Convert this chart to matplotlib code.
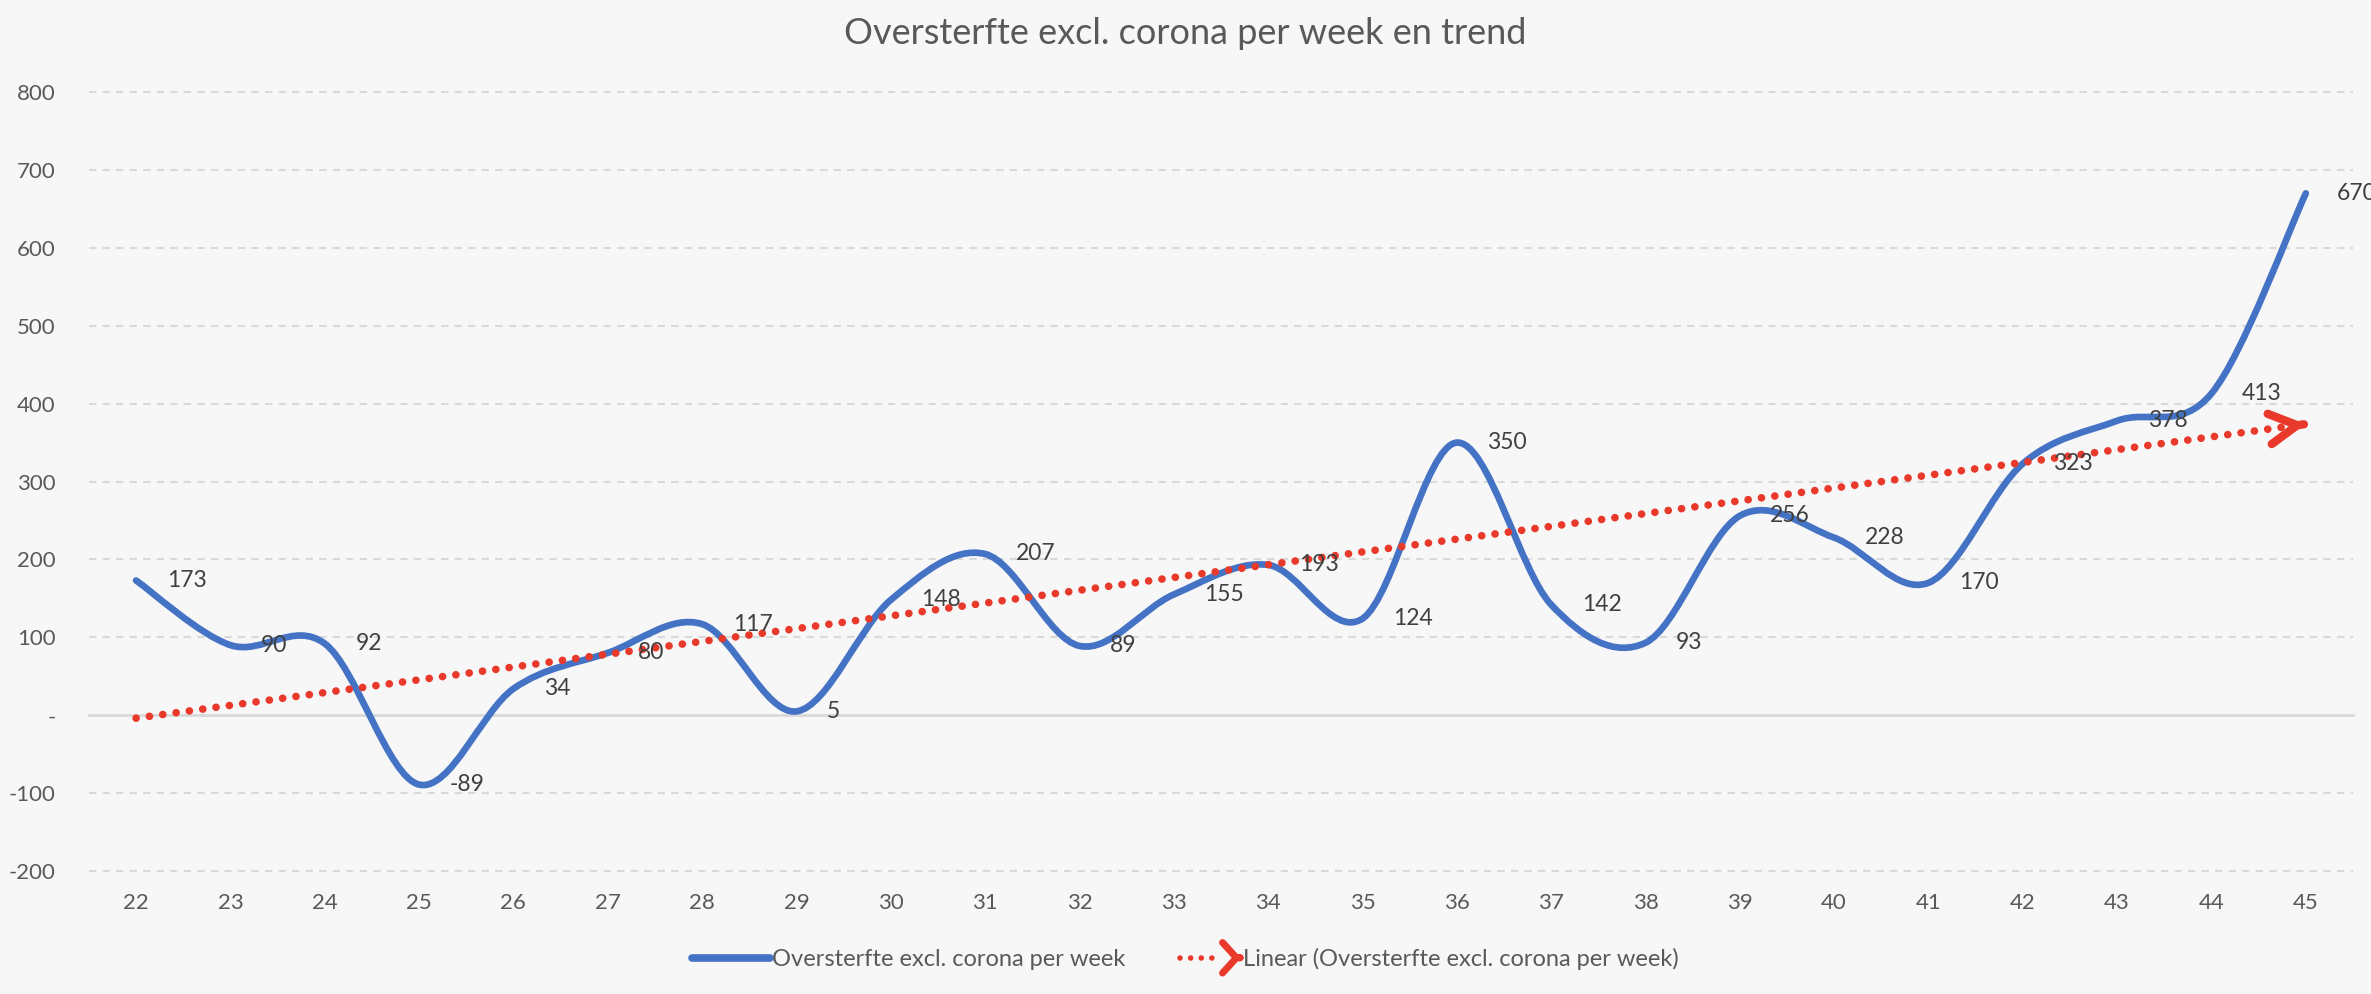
import matplotlib.pyplot as plt
import numpy as np
from matplotlib.lines import Line2D
from matplotlib.patches import FancyArrowPatch, PathPatch
from matplotlib.path import Path
from matplotlib.legend_handler import HandlerBase

# Week numbers and excess deaths (excl. corona) per week
weeks = list(range(22, 46))
excess_deaths = [173, 90, 92, -89, 34, 80, 117, 5, 148, 207, 89, 155,
                 193, 124, 350, 142, 93, 256, 228, 170, 323, 378, 413, 670]
y_ticks = [-200, -100, 0, 100, 200, 300, 400, 500, 600, 700, 800]

TITLE = "Oversterfte excl. corona per week en trend"
SERIES_LABEL = "Oversterfte excl. corona per week"
TREND_LABEL = "Linear (Oversterfte excl. corona per week)"

BG = "#F7F7F7"
BLUE = "#4472C4"
RED = "#E8392B"
GRID = "#D9D9D9"
TEXT = "#595959"
LABEL = "#404040"

ARROW = "->,head_length=20,head_width=11"

plt.rcParams["font.family"] = ["Lato", "DejaVu Sans"]


def smooth_path(x, y):
    """Bezier path through the points, like Excel's smoothed line"""
    pts = np.column_stack([x, y]).astype(float)
    n = len(pts)
    verts = [pts[0]]
    codes = [Path.MOVETO]
    for i in range(n - 1):
        prev = pts[max(i - 1, 0)]
        nxt = pts[min(i + 2, n - 1)]
        verts += [pts[i] + (pts[i + 1] - prev) / 6,
                  pts[i + 1] - (nxt - pts[i]) / 6,
                  pts[i + 1]]
        codes += [Path.CURVE4] * 3
    return Path(verts, codes)


class TrendHandler(HandlerBase):
    def create_artists(self, legend, orig_handle, xdescent, ydescent,
                       width, height, fontsize, trans):
        y = height / 2 - ydescent
        x0 = -xdescent
        x1 = width - xdescent
        dots = Line2D([x0 + 12, x1 - 14], [y, y], color=RED, lw=4,
                      linestyle=(0, (0.01, 1.9)), dash_capstyle="round",
                      transform=trans)
        head = FancyArrowPatch((x1 - 1, y), (x1, y),
                               arrowstyle="->,head_length=10,head_width=11",
                               mutation_scale=1, lw=5, color=RED,
                               shrinkA=0, shrinkB=0, transform=trans)
        return [dots, head]


fig = plt.figure(figsize=(23.71, 9.94), dpi=100, facecolor=BG)
ax = fig.add_axes([0.0375, 0.1237, 0.9549, 0.7837], facecolor=BG)
ax.set_xlim(weeks[0] - 0.5, weeks[-1] + 0.5)
ax.set_ylim(y_ticks[0], y_ticks[-1])

for v in y_ticks:
    if v == 0:
        ax.axhline(v, color=GRID, lw=2, zorder=1, clip_on=False)
    else:
        ax.axhline(v, color=GRID, lw=1.5, linestyle=(0, (3.5, 3)),
                   zorder=1, clip_on=False)

# smoothed series line
patch = PathPatch(smooth_path(weeks, excess_deaths), fill=False,
                  edgecolor=BLUE, lw=4.8, capstyle="round",
                  joinstyle="round", zorder=3)
ax.add_patch(patch)

# linear trend
slope, intercept = np.polyfit(weeks, excess_deaths, 1)
tx = np.array([weeks[0], weeks[-1] - 0.2])
ax.plot(tx, slope * tx + intercept, color=RED, lw=5.5,
        linestyle=(0, (0.01, 1.75)), dash_capstyle="round", zorder=4)
end_x = weeks[-1]
ax.annotate("", xy=(end_x, slope * end_x + intercept),
            xytext=(end_x - 0.02, slope * (end_x - 0.02) + intercept),
            arrowprops=dict(arrowstyle=ARROW, mutation_scale=1, lw=6,
                            color=RED, shrinkA=0, shrinkB=0),
            zorder=4)

# data labels to the right of each point
for w, v in zip(weeks, excess_deaths):
    ax.annotate(str(v), xy=(w, v), xytext=(22, 0),
                textcoords="offset points", ha="left", va="center",
                fontsize=16.5, color=LABEL, zorder=5, annotation_clip=False)

ax.set_xticks(weeks)
ax.set_xticklabels([str(w) for w in weeks])
ax.set_yticks(y_ticks)
ax.set_yticklabels(["-" if v == 0 else str(v) for v in y_ticks])
ax.tick_params(axis="both", length=0, labelsize=16, labelcolor=TEXT)
ax.tick_params(axis="y", pad=24)
ax.tick_params(axis="x", pad=16)
for spine in ax.spines.values():
    spine.set_visible(False)

fig.text(0.5, 1 - 33 / 994, TITLE, ha="center", va="center",
         fontsize=26, color=TEXT)

series_handle = Line2D([], [], color=BLUE, lw=5.5, solid_capstyle="round")
trend_handle = Line2D([], [], color=RED)
fig.legend([series_handle, trend_handle], [SERIES_LABEL, TREND_LABEL],
           handler_map={trend_handle: TrendHandler()},
           loc="center", bbox_to_anchor=(0.5, 1 - 959 / 994), ncol=2,
           frameon=False, fontsize=17, labelcolor=TEXT,
           handlelength=3.3, handletextpad=0.1, columnspacing=1.6)

fig.savefig("out.png", dpi=100, facecolor=BG)
